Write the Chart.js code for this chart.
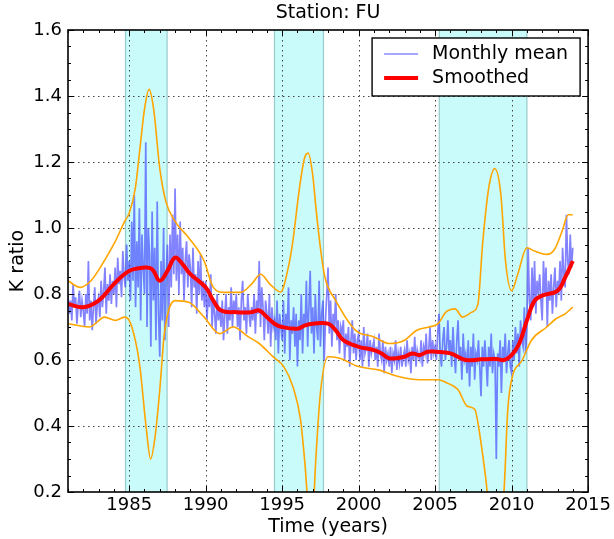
<!DOCTYPE html>
<html lang="en">
<head>
<meta charset="UTF-8">
<title>Station: FU</title>
<script src="https://cdn.jsdelivr.net/npm/chart.js"></script>
<style>
  html, body { margin: 0; padding: 0; background: #fff; }
</style>
</head>
<body>
<canvas id="chart" width="614" height="539"></canvas>
<script>
// ---- data ----
const startYear = 1981;   // first monthly value, one value per month
const monthlyMean = [
  0.80,0.74,0.78,0.72,0.83,0.76,0.79,0.71,0.77,0.81,0.73,0.78, // 1981
  0.75,0.70,0.80,0.74,0.90,0.72,0.78,0.69,0.76,0.82,0.71,0.77, // 1982
  0.79,0.73,0.84,0.76,0.81,0.88,0.74,0.83,0.78,0.86,0.77,0.84, // 1983
  0.80,0.88,0.76,0.91,0.83,0.87,0.79,0.93,0.85,0.82,0.95,0.84, // 1984
  0.90,0.78,1.02,0.84,1.10,0.76,0.96,0.82,1.06,0.72,0.98,0.88, // 1985
  0.80,1.26,0.70,1.00,0.92,0.64,1.05,0.78,0.94,0.66,1.08,0.74, // 1986
  0.61,0.90,0.72,1.00,0.66,0.86,0.95,0.70,0.98,0.82,1.04,0.86, // 1987
  1.12,0.84,0.98,0.80,1.02,0.86,0.94,0.78,0.90,0.96,0.82,0.92, // 1988
  0.88,0.76,0.94,0.82,0.86,0.74,0.90,0.80,0.92,0.78,0.84,0.76, // 1989
  0.84,0.72,0.80,0.76,0.86,0.70,0.78,0.74,0.68,0.80,0.72,0.76, // 1990
  0.70,0.78,0.66,0.74,0.80,0.68,0.76,0.72,0.82,0.70,0.78,0.74, // 1991
  0.80,0.70,0.76,0.66,0.78,0.84,0.72,0.76,0.68,0.80,0.74,0.70, // 1992
  0.76,0.72,0.80,0.68,0.78,0.74,0.90,0.70,0.82,0.76,0.66,0.78, // 1993
  0.74,0.68,0.80,0.64,0.76,0.70,0.72,0.66,0.78,0.62,0.74,0.70, // 1994
  0.66,0.78,0.62,0.74,0.70,0.82,0.60,0.72,0.68,0.76,0.64,0.74, // 1995
  0.58,0.72,0.66,0.80,0.62,0.74,0.70,0.84,0.64,0.76,0.87,0.68, // 1996
  0.76,0.62,0.80,0.70,0.66,0.84,0.64,0.74,0.78,0.60,0.72,0.80, // 1997
  0.88,0.68,0.78,0.64,0.74,0.70,0.80,0.66,0.72,0.62,0.70,0.68, // 1998
  0.72,0.60,0.68,0.64,0.70,0.58,0.66,0.72,0.62,0.68,0.60,0.66, // 1999
  0.68,0.60,0.66,0.58,0.70,0.62,0.64,0.68,0.58,0.66,0.62,0.64, // 2000
  0.66,0.60,0.64,0.58,0.68,0.62,0.60,0.66,0.56,0.64,0.60,0.62, // 2001
  0.58,0.64,0.56,0.62,0.60,0.66,0.57,0.62,0.59,0.64,0.58,0.61, // 2002
  0.63,0.58,0.66,0.60,0.62,0.56,0.64,0.60,0.67,0.58,0.63,0.61, // 2003
  0.60,0.66,0.58,0.64,0.62,0.68,0.59,0.63,0.70,0.60,0.66,0.62, // 2004
  0.64,0.60,0.68,0.74,0.62,0.58,0.66,0.70,0.60,0.64,0.72,0.62, // 2005
  0.66,0.58,0.70,0.62,0.56,0.66,0.72,0.60,0.64,0.54,0.68,0.60, // 2006
  0.62,0.56,0.66,0.52,0.64,0.58,0.68,0.54,0.62,0.60,0.66,0.58, // 2007
  0.49,0.64,0.58,0.66,0.60,0.52,0.64,0.58,0.68,0.56,0.62,0.60, // 2008
  0.30,0.62,0.58,0.66,0.50,0.64,0.60,0.68,0.56,0.62,0.66,0.58, // 2009
  0.56,0.66,0.60,0.70,0.62,0.68,0.58,0.72,0.66,0.64,0.76,0.62, // 2010
  0.70,0.94,0.78,0.72,0.88,0.76,0.90,0.74,0.84,0.80,0.86,0.78, // 2011
  0.72,0.90,0.80,0.88,0.70,0.84,0.78,0.86,0.74,0.82,0.88,0.76, // 2012
  0.84,0.80,0.90,0.78,0.94,0.86,0.82,1.04,0.90,0.86,0.98,0.88, // 2013
  0.94                                                          // 2014
];

const smoothYears = [1981, 1982, 1983, 1984, 1985, 1986, 1986.5, 1987, 1987.5, 1988, 1988.5, 1989, 1990, 1990.5, 1991, 1992, 1993, 1993.5, 1994, 1994.5, 1995, 1996, 1996.5, 1997, 1998, 1998.5, 1999, 2000, 2001, 2001.5, 2002, 2003, 2003.5, 2004, 2004.5, 2005, 2006, 2007, 2008, 2009, 2009.5, 2010, 2010.5, 2011, 2011.5, 2012, 2013, 2013.5, 2014];
const smoothVals  = [0.77, 0.76, 0.78, 0.83, 0.87, 0.88, 0.875, 0.84, 0.87, 0.91, 0.89, 0.86, 0.82, 0.78, 0.75, 0.745, 0.745, 0.75, 0.73, 0.71, 0.70, 0.695, 0.705, 0.71, 0.71, 0.69, 0.66, 0.64, 0.63, 0.62, 0.605, 0.61, 0.62, 0.615, 0.625, 0.625, 0.62, 0.60, 0.602, 0.603, 0.60, 0.615, 0.65, 0.72, 0.78, 0.795, 0.81, 0.85, 0.90];

const upperYears = [1981, 1981.8, 1982.5, 1983.1, 1984.1, 1984.7, 1985, 1985.4, 1985.7, 1986, 1986.3, 1986.6, 1987, 1987.4, 1988, 1988.9, 1989.9, 1990.5, 1991.2, 1992.3, 1993, 1993.6, 1994.2, 1994.9, 1995.4, 1995.7, 1996.1, 1996.45, 1996.7, 1997, 1997.2, 1997.5, 1997.8, 1998.5, 1999.8, 2001, 2002, 2003, 2003.8, 2004.6, 2005.2, 2005.7, 2006.3, 2006.8, 2007.4, 2007.8, 2008.1, 2008.5, 2008.9, 2009.3, 2009.6, 2010, 2010.4, 2011, 2011.5, 2012.3, 2012.8, 2013.3, 2013.7, 2014];
const upperVals  = [0.84, 0.82, 0.84, 0.88, 0.96, 1.02, 1.045, 1.12, 1.24, 1.36, 1.42, 1.36, 1.18, 1.08, 1.02, 0.97, 0.90, 0.82, 0.805, 0.805, 0.83, 0.86, 0.83, 0.806, 0.88, 0.96, 1.11, 1.21, 1.227, 1.16, 1.065, 0.94, 0.85, 0.78, 0.69, 0.67, 0.65, 0.66, 0.69, 0.70, 0.71, 0.745, 0.755, 0.73, 0.745, 0.77, 0.95, 1.12, 1.18, 1.10, 0.90, 0.81, 0.86, 0.94, 0.93, 0.92, 0.935, 0.99, 1.04, 1.04];

const lowerYears = [1981, 1982.4, 1983.4, 1984.1, 1984.7, 1985, 1985.4, 1985.7, 1986.1, 1986.4, 1986.7, 1987, 1987.3, 1988, 1988.9, 1989.9, 1990.9, 1991.8, 1992.8, 1993.5, 1994.4, 1995.1, 1995.7, 1996.2, 1996.5, 1996.9, 1997.2, 1997.5, 1998, 1998.7, 2000, 2001.3, 2002.6, 2004, 2005.2, 2005.8, 2006.5, 2007.1, 2007.6, 2007.9, 2008.3, 2008.8, 2009.1, 2009.5, 2009.75, 2010, 2010.7, 2011.3, 2012.3, 2012.9, 2013.5, 2014];
const lowerVals  = [0.71, 0.70, 0.73, 0.72, 0.73, 0.72, 0.66, 0.58, 0.40, 0.30, 0.37, 0.51, 0.68, 0.78, 0.775, 0.73, 0.68, 0.70, 0.67, 0.65, 0.61, 0.58, 0.52, 0.42, 0.28, 0.05, 0.30, 0.50, 0.61, 0.606, 0.58, 0.57, 0.55, 0.54, 0.54, 0.53, 0.51, 0.46, 0.45, 0.38, 0.245, 0.05, 0.05, 0.20, 0.45, 0.54, 0.60, 0.66, 0.70, 0.725, 0.74, 0.76];

// shaded periods [from, to]
const bands = [[1984.76, 1987.48], [1994.5, 1997.7], [2005.27, 2011.0]];

const xTicks = [1985, 1990, 1995, 2000, 2005, 2010, 2015];
const yTicks = [0.2, 0.4, 0.6, 0.8, 1.0, 1.2, 1.4, 1.6];
const xMinorStep = 1;
const yMinorStep = 0.05;

const FONT = "'DejaVu Sans', sans-serif";

function pairs(xs, ys) {
  return xs.map((x, i) => ({ x: x, y: ys[i] }));
}
const monthlyPts = monthlyMean.map((v, i) => ({ x: startYear + i / 12, y: v }));

// bands + dotted grid under the lines, frame/ticks/legend/title on top
const decor = {
  id: 'decor',
  beforeDatasetsDraw(chart) {
    const { ctx, chartArea: a, scales: { x, y } } = chart;
    ctx.save();
    bands.forEach(b => {
      const x0 = x.getPixelForValue(b[0]), x1 = x.getPixelForValue(b[1]);
      ctx.fillStyle = 'rgba(0, 235, 235, 0.21)';
      ctx.fillRect(x0, a.top, x1 - x0, a.bottom - a.top);
      ctx.strokeStyle = 'rgba(90, 160, 160, 0.55)';
      ctx.lineWidth = 1.2;
      ctx.beginPath();
      ctx.moveTo(x0, a.top); ctx.lineTo(x0, a.bottom);
      ctx.moveTo(x1, a.top); ctx.lineTo(x1, a.bottom);
      ctx.stroke();
    });
    ctx.strokeStyle = '#444';
    ctx.lineWidth = 1;
    ctx.setLineDash([1.5, 3.5]);
    ctx.beginPath();
    xTicks.forEach(v => {
      const px = Math.round(x.getPixelForValue(v)) + 0.5;
      if (px > a.left + 2 && px < a.right - 2) { ctx.moveTo(px, a.top); ctx.lineTo(px, a.bottom); }
    });
    yTicks.forEach(v => {
      const py = Math.round(y.getPixelForValue(v)) + 0.5;
      if (py > a.top + 2 && py < a.bottom - 2) { ctx.moveTo(a.left, py); ctx.lineTo(a.right, py); }
    });
    ctx.stroke();
    ctx.restore();
  },
  afterDatasetsDraw(chart) {
    const { ctx, chartArea: a, scales: { x, y } } = chart;
    ctx.save();
    // ticks pointing inward on all four sides
    ctx.strokeStyle = '#000';
    ctx.lineWidth = 1;
    ctx.beginPath();
    for (let v = 1981; v <= 2015; v += xMinorStep) {
      const px = Math.round(x.getPixelForValue(v)) + 0.5;
      const len = xTicks.includes(v) ? 6 : 3;
      ctx.moveTo(px, a.bottom); ctx.lineTo(px, a.bottom - len);
      ctx.moveTo(px, a.top); ctx.lineTo(px, a.top + len);
    }
    for (let k = 0; k <= 28; k++) {
      const v = 0.2 + k * yMinorStep;
      const py = Math.round(y.getPixelForValue(v)) + 0.5;
      const len = k % 4 === 0 ? 6 : 3;
      ctx.moveTo(a.left, py); ctx.lineTo(a.left + len, py);
      ctx.moveTo(a.right, py); ctx.lineTo(a.right - len, py);
    }
    ctx.stroke();
    ctx.lineWidth = 1.6;
    ctx.strokeRect(a.left, a.top, a.right - a.left, a.bottom - a.top);

    // legend
    const bx = a.right - 216, by = a.top + 8, bw = 208, bh = 58;
    ctx.fillStyle = '#fff';
    ctx.fillRect(bx, by, bw, bh);
    ctx.lineWidth = 1.4;
    ctx.strokeStyle = '#000';
    ctx.strokeRect(bx, by, bw, bh);
    ctx.lineWidth = 2;
    ctx.strokeStyle = 'rgba(60, 60, 255, 0.45)';
    ctx.beginPath(); ctx.moveTo(bx + 12, by + 16); ctx.lineTo(bx + 46, by + 16); ctx.stroke();
    ctx.lineWidth = 4;
    ctx.strokeStyle = '#ff0000';
    ctx.beginPath(); ctx.moveTo(bx + 12, by + 40); ctx.lineTo(bx + 46, by + 40); ctx.stroke();
    ctx.fillStyle = '#000';
    ctx.font = '19px ' + FONT;
    ctx.textBaseline = 'middle';
    ctx.textAlign = 'left';
    ctx.fillText('Monthly mean', bx + 60, by + 16);
    ctx.fillText('Smoothed', bx + 60, by + 40);

    // title
    ctx.textAlign = 'center';
    ctx.fillText('Station: FU', (a.left + a.right) / 2, 13);
    ctx.restore();
  }
};

const ctx = document.getElementById('chart').getContext('2d');
const chart = new Chart(ctx, {
  type: 'line',
  data: {
    datasets: [
      { label: 'Smoothed', data: pairs(smoothYears, smoothVals), borderColor: '#ff0000', borderWidth: 4, tension: 0.4 },
      { label: 'upper', data: pairs(upperYears, upperVals), borderColor: '#ffa500', borderWidth: 1.6, cubicInterpolationMode: 'monotone' },
      { label: 'lower', data: pairs(lowerYears, lowerVals), borderColor: '#ffa500', borderWidth: 1.6, cubicInterpolationMode: 'monotone' },
      { label: 'Monthly mean', data: monthlyPts, borderColor: 'rgba(55, 55, 255, 0.62)', borderWidth: 1.7, tension: 0 }
    ]
  },
  options: {
    responsive: false,
    animation: false,
    layout: { padding: { top: 30, right: 25, left: 0, bottom: 0 } },
    elements: { point: { radius: 0 } },
    plugins: {
      legend: { display: false },
      title: { display: false },
      tooltip: { enabled: false }
    },
    scales: {
      x: {
        type: 'linear',
        min: 1981, max: 2015,
        grid: { display: false, drawTicks: false },
        border: { display: false },
        afterBuildTicks: s => { s.ticks = xTicks.map(v => ({ value: v })); },
        afterFit: s => { s.height = 47; },
        ticks: { color: '#000', font: { family: FONT, size: 18 }, padding: 3, maxRotation: 0, callback: v => String(v) },
        title: { display: true, text: 'Time (years)', color: '#000', font: { family: FONT, size: 19 }, padding: { top: 0, bottom: 1 } }
      },
      y: {
        min: 0.2, max: 1.6,
        grid: { display: false, drawTicks: false },
        border: { display: false },
        afterBuildTicks: s => { s.ticks = yTicks.map(v => ({ value: v })); },
        afterFit: s => { s.width = 68; },
        ticks: { color: '#000', font: { family: FONT, size: 18 }, padding: 6, callback: v => Number(v).toFixed(1) },
        title: { display: true, text: 'K ratio', color: '#000', font: { family: FONT, size: 19 }, padding: { top: 7, bottom: 0 } }
      }
    }
  },
  plugins: [decor]
});
</script>
</body>
</html>
